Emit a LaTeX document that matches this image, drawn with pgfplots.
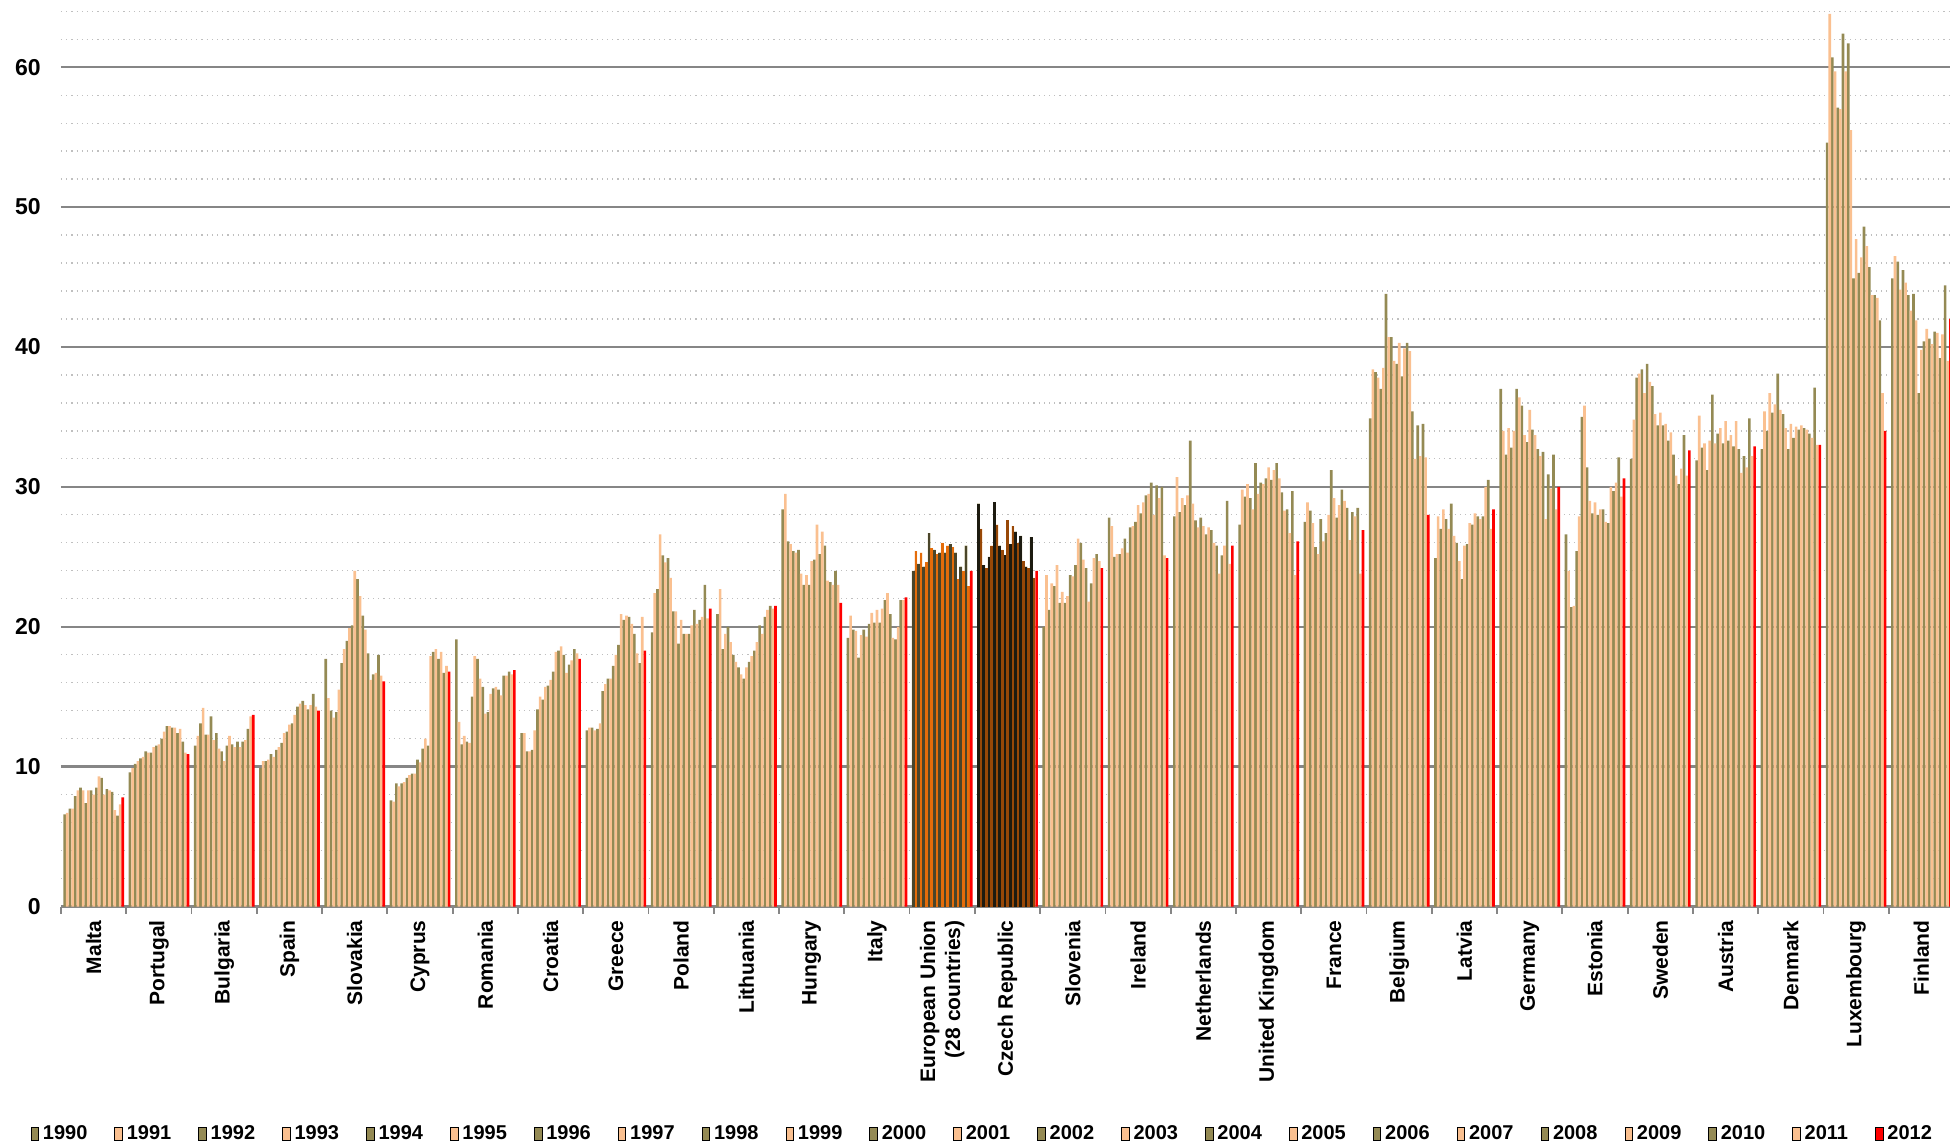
\documentclass[border=0pt]{standalone}
\usepackage{fontspec}
\setmainfont{Liberation Sans}
\usepackage{pgfplots}
\usepackage{pgfplotstable}
\pgfplotsset{compat=1.18}

\definecolor{olivec}{HTML}{948A54}
\definecolor{tanc}{HTML}{FAC090}
\definecolor{eudark}{HTML}{4A452A}
\definecolor{euorange}{HTML}{E46C0A}
\definecolor{czdark}{HTML}{1D1B10}
\definecolor{czbrown}{HTML}{984807}
\definecolor{gridgray}{HTML}{868686}
\definecolor{minorgray}{HTML}{BFBFBF}

% one row per country, one column per year (1990-2012)
\pgfplotstableread{
c Y1990 Y1991 Y1992 Y1993 Y1994 Y1995 Y1996 Y1997 Y1998 Y1999 Y2000 Y2001 Y2002 Y2003 Y2004 Y2005 Y2006 Y2007 Y2008 Y2009 Y2010 Y2011 Y2012
Malta       6.6 6.7 7.0 7.0 7.9 8.3 8.5 8.3 7.4 8.3 8.3 8.0 8.5 9.3 9.2 8.0 8.4 8.3 8.2 6.9 6.5 7.3 7.8
Portugal    9.6 9.9 10.2 10.4 10.6 10.7 11.1 11.0 11.0 11.4 11.5 11.6 12.0 12.5 12.9 12.9 12.8 12.8 12.4 12.7 11.8 11.0 10.9
Bulgaria    11.5 12.2 13.1 14.2 12.3 12.3 13.6 11.9 12.4 11.3 11.1 10.4 11.5 12.2 11.6 11.4 11.8 11.4 11.8 11.9 12.7 13.6 13.7
Spain       9.9 10.4 10.4 10.5 10.9 10.7 11.2 11.4 11.7 12.4 12.5 13.0 13.1 13.7 14.3 14.5 14.7 14.4 14.1 14.4 15.2 14.3 14.0
Slovakia    17.7 14.9 14.0 13.5 13.9 15.5 17.4 18.4 19.0 19.9 20.1 24.0 23.4 22.2 20.8 19.8 18.1 16.2 16.6 16.7 18.0 16.5 16.1
Cyprus      7.6 7.5 8.8 8.6 8.8 8.9 9.2 9.4 9.5 9.5 10.5 10.3 11.3 12.0 11.5 17.9 18.2 18.4 17.7 18.2 16.7 17.2 16.8
Romania     19.1 13.2 11.6 12.2 11.8 11.7 15.0 17.9 17.7 16.3 15.7 13.8 13.9 15.2 15.6 15.7 15.5 15.1 16.5 16.5 16.8 16.6 16.9
Croatia     12.4 12.4 11.1 11.1 11.2 12.6 14.1 15.0 14.8 15.7 15.8 16.2 16.8 18.2 18.3 18.6 18.0 16.7 17.3 17.6 18.4 18.1 17.7
Greece      12.6 12.8 12.8 12.6 12.7 13.1 15.4 15.9 16.3 16.3 17.2 18.0 18.7 20.9 20.5 20.8 20.7 20.2 19.5 18.1 17.4 20.7 18.3
Poland      19.6 22.4 22.7 26.6 25.1 24.6 24.9 23.5 21.1 21.1 18.8 20.5 19.5 19.5 19.5 20.1 21.2 20.2 20.5 20.7 23.0 20.6 21.3
Lithuania   20.9 22.7 18.4 19.5 20.0 18.9 18.0 17.5 17.1 16.6 16.3 17.1 17.5 17.9 18.3 18.9 20.1 19.5 20.7 21.2 21.5 21.3 21.5
Hungary     28.4 29.5 26.1 25.9 25.4 25.3 25.5 23.8 23.0 23.7 23.0 24.7 24.8 27.3 25.2 26.8 25.8 23.3 23.2 23.0 24.0 23.0 21.7
Italy       19.2 20.8 19.8 19.7 17.8 19.4 19.8 19.3 20.2 21.0 20.3 21.2 20.3 21.3 21.9 22.4 20.9 19.2 19.1 20.0 21.9 21.9 22.1
EU28        24.0 25.4 24.5 25.3 24.3 24.6 26.7 25.6 25.5 25.2 25.3 26.0 25.3 25.8 25.9 25.7 25.3 23.4 24.3 24.0 25.8 22.9 24.0
Czech       28.8 27.0 24.4 24.2 25.0 25.8 28.9 27.3 25.8 25.5 25.1 27.6 25.9 27.2 26.8 26.0 26.5 24.7 24.3 24.2 26.4 23.5 24.0
Slovenia    20.0 23.7 21.2 23.1 22.9 24.4 21.7 22.5 21.7 22.2 23.7 23.6 24.4 26.3 26.0 24.8 24.2 21.8 23.1 24.9 25.2 24.7 24.2
Ireland     27.8 27.2 25.0 25.2 25.2 25.6 26.3 25.3 27.1 27.2 27.5 28.7 28.1 28.9 29.4 29.5 30.3 28.0 30.1 29.2 30.0 25.1 24.9
Netherlands 27.9 30.7 28.2 29.2 28.7 29.4 33.3 28.8 27.6 27.1 27.8 27.2 26.6 27.1 26.9 26.0 25.8 23.8 25.1 25.8 29.0 24.5 25.8
UK          27.3 29.8 29.3 30.2 29.2 28.4 31.7 29.5 30.3 30.2 30.6 31.4 30.5 31.2 31.7 30.6 29.6 28.3 28.4 26.7 29.7 23.7 26.1
France      27.5 28.9 28.3 27.4 25.7 25.2 27.7 26.1 26.7 28.0 31.2 29.2 27.8 28.7 29.8 29.0 28.5 26.2 28.2 27.9 28.5 23.8 26.9
Belgium     34.9 38.4 38.2 37.8 37.0 38.5 43.8 40.7 40.7 39.0 38.8 40.3 37.9 39.9 40.3 39.7 35.4 32.0 34.4 32.2 34.5 32.1 28.0
Latvia      24.9 27.9 27.0 28.4 27.7 27.0 28.8 26.5 26.0 24.7 23.4 25.8 25.9 27.4 27.3 28.1 27.9 27.7 27.9 30.0 30.5 27.0 28.4
Germany     37.0 34.0 32.3 34.2 32.8 34.0 37.0 36.4 35.8 33.7 33.2 35.5 34.1 33.7 32.7 32.2 32.5 27.7 30.9 29.9 32.3 28.4 30.0
Estonia     26.6 24.0 21.4 21.5 25.4 27.9 35.0 35.8 31.4 29.0 28.1 28.9 28.0 28.4 28.4 27.5 27.4 30.0 29.7 30.3 32.1 29.3 30.6
Sweden      32.0 34.8 37.8 38.1 38.4 36.7 38.8 37.5 37.2 35.2 34.4 35.3 34.4 34.5 33.3 33.9 32.3 30.8 30.2 31.3 33.7 30.8 32.6
Austria     31.9 35.1 32.8 33.1 31.2 33.3 36.6 33.1 33.8 34.2 33.1 34.7 33.3 33.7 32.9 34.7 32.7 31.0 32.2 31.4 34.9 32.2 32.9
Denmark     32.7 35.4 34.0 36.7 35.3 35.9 38.1 35.5 35.2 34.2 32.7 34.5 33.5 34.3 34.1 34.4 34.2 34.1 33.8 33.5 37.1 33.0 33.0
Luxembourg  54.6 63.8 60.7 59.7 57.1 57.0 62.4 59.7 61.7 55.5 44.9 47.7 45.3 46.4 48.6 47.2 45.7 43.7 43.7 43.5 41.9 36.7 34.0
Finland     44.9 46.5 46.1 44.1 45.5 44.6 43.7 42.6 43.8 41.9 36.7 39.8 40.4 41.3 40.6 40.2 41.1 41.0 39.2 40.9 44.4 39.0 42.0
}\shares

\pgfplotsset{
  yrbar/.style={ybar, bar width=0.97, bar shift=0, draw=none, fill=#1, forget plot},
  legbar/.style={legend image code/.code={\fill[##1] (0pt,-3.2pt) rectangle (3.8pt,3.2pt);}},
}

\begin{document}
\begin{tikzpicture}
\begin{axis}[
  at={(0,0)}, anchor=south west,
  scale only axis, width=946.5pt, height=453.3pt,
  xmin=0, xmax=696, ymin=0, ymax=64.8,
  axis line style={draw=none},
  ytick={0,10,...,60},
  minor ytick={2,4,6,8,12,14,16,18,22,24,26,28,32,34,36,38,42,44,46,48,52,54,56,58,62,64},
  ymajorgrids, yminorgrids,
  major grid style={draw=gridgray, line width=1.2pt},
  minor grid style={draw=minorgray, line width=0.6pt, dotted},
  ytick style={draw=none},
  yticklabel style={font=\fontsize{11.5}{13}\selectfont\bfseries, inner sep=0pt},
  yticklabel shift=10pt,
  /pgf/number format/assume math mode=true,
  xtick={12,36,...,684},
  xticklabels={Malta, Portugal, Bulgaria, Spain, Slovakia, Cyprus, Romania, Croatia,
    Greece, Poland, Lithuania, Hungary, Italy, {European Union\\(28 countries)},
    Czech Republic, Slovenia, Ireland, Netherlands, United Kingdom, France, Belgium,
    Latvia, Germany, Estonia, Sweden, Austria, Denmark, Luxembourg, Finland},
  minor xtick={0,24,...,696},
  tick align=outside, major tick length=0pt, minor tick length=3.5pt,
  xtick style={draw=gridgray, line width=0.9pt},
  xticklabel style={rotate=90, anchor=east, align=right, inner sep=0pt,
    font=\fontsize{10.5}{12.5}\selectfont\bfseries},
  xticklabel shift=6.7pt,
  xtick pos=bottom, ytick pos=left,
  legend columns=-1,
  legend style={at={(0.4872,-0.251)}, anchor=center, draw=none, fill=none,
    font=\fontsize{10}{12}\selectfont\bfseries,
    /tikz/every even column/.append style={column sep=11.5pt}},
]
% olive (even years) and tan (odd years) bars for every country
\pgfplotsinvokeforeach{1990,1992,...,2010}{
  \addplot[yrbar=olivec] table[x expr=\coordindex*24+1.35+0.97*(#1-1990), y=Y#1] {\shares};
}
\pgfplotsinvokeforeach{1991,1993,...,2011}{
  \addplot[yrbar=tanc] table[x expr=\coordindex*24+1.35+0.97*(#1-1990), y=Y#1] {\shares};
}
% EU and Czech Republic in their own colours
\pgfplotsinvokeforeach{1990,1992,...,2010}{
  \addplot[yrbar=eudark, restrict x to domain=311:336] table[x expr=\coordindex*24+1.35+0.97*(#1-1990), y=Y#1] {\shares};
  \addplot[yrbar=czdark, restrict x to domain=336:361] table[x expr=\coordindex*24+1.35+0.97*(#1-1990), y=Y#1] {\shares};
}
\pgfplotsinvokeforeach{1991,1993,...,2011}{
  \addplot[yrbar=euorange, restrict x to domain=311:336] table[x expr=\coordindex*24+1.35+0.97*(#1-1990), y=Y#1] {\shares};
  \addplot[yrbar=czbrown, restrict x to domain=336:361] table[x expr=\coordindex*24+1.35+0.97*(#1-1990), y=Y#1] {\shares};
}
\addplot[yrbar=red] table[x expr=\coordindex*24+1.35+0.97*22, y=Y2012] {\shares};

\pgfplotsinvokeforeach{1990,1992,...,2010}{
  \addlegendimage{legbar, fill=olivec}\addlegendentry{#1}
  \addlegendimage{legbar, fill=tanc}\addlegendentry{\the\numexpr#1+1\relax}
}
\addlegendimage{legbar, fill=red}\addlegendentry{2012}
\end{axis}
\pgfresetboundingbox
\path[use as bounding box] (-30.5pt,-119.2pt) rectangle (944.5pt,453.3pt);
\end{tikzpicture}
\end{document}
